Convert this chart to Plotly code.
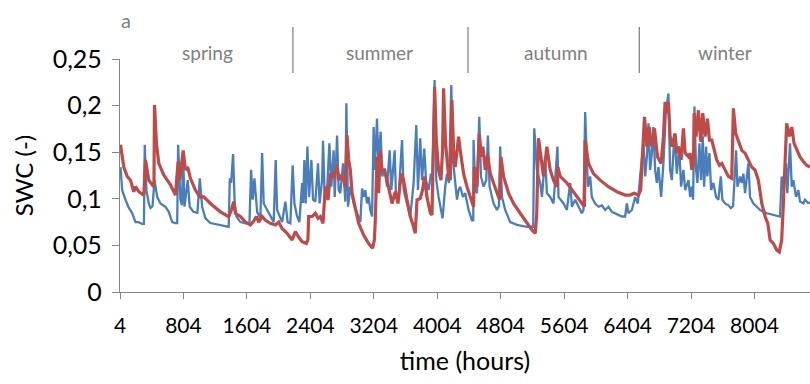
import plotly.graph_objects as go

# ---- data ----
blue_h = [10, 32, 73, 111, 158, 199, 237, 284, 306, 316, 338, 367, 388, 414, 439, 473, 514, 577, 619, 662,
          703, 725, 737, 766, 785, 800, 817, 858, 883, 930, 980, 1010, 1040, 1081, 1144, 1270, 1375, 1388, 1405, 1430,
          1450, 1472, 1522, 1585, 1636, 1657, 1677, 1699, 1733, 1774, 1796, 1816, 1859, 1900, 1942, 1967, 1985, 2048, 2089, 2118,
          2152, 2181, 2203, 2237, 2266, 2300, 2312, 2329, 2345, 2367, 2388, 2417, 2438, 2467, 2501, 2521, 2552, 2564, 2585, 2615,
          2644, 2669, 2698, 2711, 2741, 2761, 2782, 2816, 2845, 2858, 2879, 2908, 2950, 2993, 3034, 3056, 3076, 3097, 3119, 3139,
          3160, 3182, 3202, 3215, 3245, 3261, 3290, 3311, 3341, 3371, 3404, 3425, 3467, 3484, 3517, 3560, 3580, 3623, 3664, 3706,
          3740, 3761, 3790, 3812, 3841, 3862, 3895, 3925, 3942, 3971, 3992, 4021, 4071, 4105, 4127, 4152, 4181, 4202, 4231, 4253,
          4273, 4294, 4328, 4357, 4399, 4442, 4458, 4462, 4483, 4505, 4534, 4555, 4588, 4622, 4643, 4664, 4714, 4757, 4782, 4798,
          4820, 4861, 4924, 5009, 5135, 5214, 5227, 5261, 5302, 5324, 5365, 5387, 5428, 5470, 5520, 5533, 5596, 5639, 5680, 5702,
          5743, 5785, 5827, 5848, 5869, 5903, 5932, 5953, 5995, 6037, 6080, 6121, 6163, 6206, 6247, 6289, 6332, 6373, 6395, 6415,
          6458, 6499, 6533, 6562, 6583, 6604, 6625, 6647, 6667, 6688, 6710, 6730, 6751, 6773, 6793, 6827, 6856, 6886, 6919, 6940,
          6962, 6995, 7025, 7054, 7079, 7108, 7130, 7172, 7193, 7214, 7230, 7247, 7268, 7285, 7310, 7331, 7352, 7369, 7394, 7410,
          7436, 7457, 7486, 7520, 7549, 7579, 7599, 7633, 7675, 7705, 7734, 7772, 7789, 7823, 7844, 7864, 7885, 7927, 7948, 7990,
          8033, 8075, 8159, 8242, 8326, 8347, 8368, 8402, 8418, 8452, 8474, 8494, 8528, 8557, 8578, 8620, 8641, 8679, 8704]
blue_v = [0.134, 0.109, 0.099, 0.091, 0.0845, 0.075, 0.075, 0.073, 0.073, 0.158, 0.109, 0.095, 0.090, 0.092, 0.120, 0.102, 0.095, 0.0915, 0.086, 0.075,
          0.074, 0.074, 0.158, 0.099, 0.093, 0.150, 0.0915, 0.120, 0.0915, 0.086, 0.085, 0.122, 0.0915, 0.079, 0.074, 0.072, 0.070, 0.122, 0.117, 0.148,
          0.095, 0.081, 0.075, 0.0737, 0.0737, 0.131, 0.099, 0.122, 0.086, 0.079, 0.149, 0.095, 0.088, 0.081, 0.075, 0.1417, 0.088, 0.075, 0.097, 0.075,
          0.0737, 0.136, 0.095, 0.081, 0.075, 0.117, 0.0955, 0.1417, 0.095, 0.156, 0.102, 0.1417, 0.099, 0.097, 0.138, 0.095, 0.120, 0.1623, 0.102, 0.1094,
          0.1595, 0.113, 0.152, 0.102, 0.168, 0.1094, 0.106, 0.138, 0.097, 0.2025, 0.0915, 0.113, 0.095, 0.0845, 0.075, 0.111, 0.102, 0.1094, 0.095, 0.102,
          0.088, 0.081, 0.177, 0.131, 0.186, 0.138, 0.172, 0.124, 0.131, 0.113, 0.152, 0.1094, 0.152, 0.102, 0.102, 0.163, 0.1094, 0.095, 0.081, 0.117,
          0.179, 0.1094, 0.165, 0.120, 0.154, 0.120, 0.1094, 0.127, 0.120, 0.2275, 0.120, 0.102, 0.079, 0.113, 0.127, 0.117, 0.222, 0.1417, 0.113, 0.099,
          0.1094, 0.113, 0.102, 0.106, 0.088, 0.077, 0.077, 0.163, 0.1094, 0.106, 0.188, 0.124, 0.113, 0.120, 0.168, 0.113, 0.095, 0.088, 0.092, 0.156,
          0.102, 0.088, 0.075, 0.072, 0.070, 0.070, 0.1756, 0.131, 0.117, 0.102, 0.145, 0.106, 0.102, 0.095, 0.156, 0.102, 0.095, 0.088, 0.117, 0.0915,
          0.099, 0.0915, 0.0845, 0.088, 0.193, 0.113, 0.124, 0.102, 0.095, 0.0915, 0.093, 0.088, 0.0915, 0.086, 0.0845, 0.0826, 0.081, 0.081, 0.095, 0.0845,
          0.088, 0.102, 0.095, 0.124, 0.145, 0.1595, 0.124, 0.145, 0.181, 0.131, 0.149, 0.177, 0.131, 0.117, 0.134, 0.102, 0.138, 0.192, 0.213, 0.131,
          0.120, 0.170, 0.127, 0.156, 0.113, 0.131, 0.1094, 0.120, 0.102, 0.113, 0.099, 0.199, 0.131, 0.117, 0.1595, 0.120, 0.167, 0.113, 0.156, 0.124,
          0.149, 0.1094, 0.117, 0.102, 0.099, 0.124, 0.099, 0.095, 0.093, 0.090, 0.092, 0.152, 0.113, 0.124, 0.117, 0.127, 0.106, 0.138, 0.102, 0.095,
          0.0915, 0.088, 0.0845, 0.0826, 0.081, 0.124, 0.1094, 0.138, 0.106, 0.1595, 0.113, 0.120, 0.102, 0.1094, 0.097, 0.095, 0.099, 0.0955, 0.096]

red_h = [10, 52, 95, 136, 178, 199, 241, 304, 325, 367, 410, 432, 439, 464, 493, 556, 640, 703, 737, 757,
         800, 829, 858, 892, 955, 1010, 1060, 1144, 1270, 1375, 1409, 1438, 1459, 1522, 1585, 1648, 1690, 1724, 1753, 1796,
         1837, 1900, 1963, 2005, 2048, 2111, 2174, 2215, 2257, 2300, 2354, 2373, 2383, 2426, 2467, 2501, 2530, 2564, 2593, 2627,
         2656, 2698, 2741, 2761, 2782, 2824, 2845, 2867, 2887, 2908, 2930, 2971, 3013, 3076, 3139, 3189, 3211, 3223, 3245, 3265,
         3286, 3308, 3341, 3371, 3391, 3434, 3475, 3509, 3551, 3580, 3623, 3664, 3702, 3727, 3749, 3790, 3819, 3844, 3874, 3918,
         3938, 3971, 3992, 4021, 4051, 4071, 4084, 4109, 4147, 4168, 4189, 4210, 4231, 4273, 4294, 4336, 4379, 4420, 4462, 4471,
         4505, 4534, 4559, 4580, 4609, 4639, 4673, 4714, 4757, 4790, 4807, 4840, 4903, 4966, 5050, 5135, 5198, 5239, 5258, 5281,
         5315, 5344, 5386, 5428, 5470, 5513, 5525, 5554, 5639, 5722, 5806, 5860, 5869, 5911, 5974, 6058, 6163, 6269, 6373, 6436,
         6487, 6541, 6569, 6588, 6617, 6647, 6676, 6710, 6743, 6781, 6827, 6856, 6877, 6898, 6919, 6940, 6962, 7003, 7025, 7045,
         7079, 7108, 7130, 7172, 7193, 7214, 7235, 7243, 7268, 7297, 7327, 7352, 7381, 7411, 7436, 7466, 7495, 7528, 7562, 7592,
         7633, 7675, 7717, 7738, 7768, 7801, 7844, 7885, 7927, 7969, 8011, 8053, 8096, 8138, 8172, 8201, 8242, 8285, 8317, 8347,
         8368, 8389, 8410, 8443, 8474, 8503, 8537, 8578, 8620, 8662, 8704]
red_v = [0.158, 0.134, 0.124, 0.120, 0.1076, 0.113, 0.1076, 0.104, 0.1417, 0.120, 0.115, 0.113, 0.2007, 0.1595, 0.138, 0.1255, 0.115, 0.104, 0.140, 0.120,
         0.152, 0.131, 0.134, 0.122, 0.1094, 0.102, 0.102, 0.095, 0.086, 0.0808, 0.088, 0.097, 0.0845, 0.081, 0.075, 0.072, 0.076, 0.081, 0.075, 0.081,
         0.077, 0.0737, 0.072, 0.075, 0.068, 0.063, 0.0558, 0.0647, 0.059, 0.054, 0.0522, 0.0558, 0.081, 0.081, 0.0845, 0.079, 0.081, 0.0737, 0.113, 0.0987,
         0.127, 0.124, 0.136, 0.120, 0.124, 0.120, 0.113, 0.168, 0.1417, 0.131, 0.106, 0.0915, 0.0737, 0.061, 0.052, 0.047, 0.0558, 0.077, 0.145, 0.106,
         0.152, 0.131, 0.131, 0.120, 0.111, 0.095, 0.1076, 0.095, 0.127, 0.120, 0.0987, 0.081, 0.071, 0.063, 0.0987, 0.1005, 0.1094, 0.124, 0.102, 0.0845,
         0.0826, 0.220, 0.163, 0.131, 0.120, 0.152, 0.2185, 0.1595, 0.124, 0.120, 0.206, 0.152, 0.134, 0.1667, 0.152, 0.127, 0.113, 0.102, 0.0915, 0.134,
         0.113, 0.170, 0.145, 0.156, 0.131, 0.147, 0.127, 0.117, 0.106, 0.0987, 0.145, 0.124, 0.106, 0.095, 0.0845, 0.0737, 0.0665, 0.063, 0.0826, 0.165,
         0.1417, 0.124, 0.156, 0.131, 0.120, 0.113, 0.134, 0.124, 0.117, 0.1076, 0.0987, 0.0915, 0.163, 0.138, 0.127, 0.120, 0.113, 0.1076, 0.104, 0.104,
         0.106, 0.104, 0.1094, 0.1417, 0.188, 0.156, 0.177, 0.156, 0.1756, 0.145, 0.138, 0.1667, 0.204, 0.192, 0.204, 0.1667, 0.156, 0.170, 0.149, 0.156,
         0.1417, 0.1756, 0.149, 0.145, 0.149, 0.131, 0.138, 0.192, 0.1667, 0.195, 0.161, 0.192, 0.1667, 0.186, 0.163, 0.163, 0.152, 0.1417, 0.136, 0.138,
         0.131, 0.124, 0.122, 0.197, 0.170, 0.163, 0.152, 0.149, 0.1417, 0.134, 0.131, 0.120, 0.095, 0.081, 0.0737, 0.0558, 0.052, 0.045, 0.043, 0.0558,
         0.095, 0.149, 0.181, 0.167, 0.177, 0.1595, 0.152, 0.145, 0.140, 0.136, 0.134]

x_ticks = [4, 804, 1604, 2404, 3204, 4004, 4804, 5604, 6404, 7204, 8004]
y_ticks = [0, 0.05, 0.1, 0.15, 0.2, 0.25]
y_tick_text = ["0", "0,05", "0,1", "0,15", "0,2", "0,25"]
seasons = ["spring", "summer", "autumn", "winter"]
season_centers = [1106, 3273, 5504, 7633]
season_bounds = [2184, 4392, 6552]

BLUE = "#4A7EBB"
RED = "#BE4B48"
GREY = "#868686"
LABEL_GREY = "#808080"
FONT = "Lato, 'Open Sans', sans-serif"

fig = go.Figure()
fig.add_trace(go.Scatter(x=blue_h, y=blue_v, mode="lines",
                         line=dict(color=BLUE, width=2.3), showlegend=False))
fig.add_trace(go.Scatter(x=red_h, y=red_v, mode="lines",
                         line=dict(color=RED, width=3.2), showlegend=False))

for b in season_bounds:
    fig.add_shape(type="line", xref="x", yref="paper", x0=b, x1=b, y0=0.94, y1=1.137,
                  line=dict(color=GREY, width=1.3))
for name, c in zip(seasons, season_centers):
    fig.add_annotation(x=c, y=1.026, xref="x", yref="paper", text=name, showarrow=False,
                       font=dict(family=FONT, size=19, color=LABEL_GREY), xanchor="center", yanchor="middle")
fig.add_annotation(x=0.009, y=1.167, xref="paper", yref="paper", text="a", showarrow=False,
                   font=dict(family=FONT, size=20, color=LABEL_GREY), xanchor="center", yanchor="middle")

fig.update_layout(
    width=810, height=384,
    margin=dict(l=119.5, r=0, t=59, b=92),
    paper_bgcolor="white", plot_bgcolor="white",
    font=dict(family=FONT, color="black"),
    xaxis=dict(range=[4, 8704], tickmode="array", tickvals=x_ticks, ticktext=[str(t) for t in x_ticks],
               showgrid=False, zeroline=False, showline=True, linecolor=GREY, linewidth=1.3,
               ticks="outside", ticklen=6, tickcolor=GREY, tickwidth=1.3,
               tickfont=dict(family=FONT, size=21), ticklabelstandoff=9,
               title=dict(text="time (hours)", font=dict(family=FONT, size=25), standoff=16)),
    yaxis=dict(range=[0, 0.25], tickmode="array", tickvals=y_ticks, ticktext=y_tick_text,
               showgrid=False, zeroline=False, showline=True, linecolor=GREY, linewidth=1.3,
               ticks="outside", ticklen=7, tickcolor=GREY, tickwidth=1.3,
               tickfont=dict(family=FONT, size=25), ticklabelstandoff=5,
               title=dict(text="SWC (-)", font=dict(family=FONT, size=24), standoff=12)),
)

fig.write_html("out.html")
